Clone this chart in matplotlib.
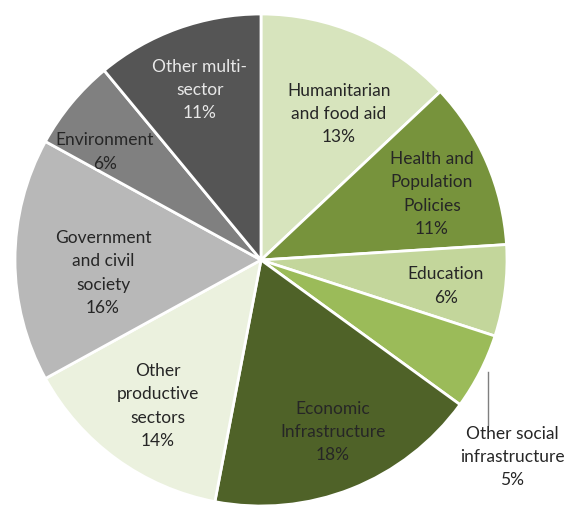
import matplotlib
matplotlib.use("Agg")
import matplotlib.pyplot as plt

# sector shares, clockwise from 12 o'clock
sectors = ["Humanitarian\nand food aid", "Health and\nPopulation\nPolicies", "Education",
           "Other social\ninfrastructure", "Economic\nInfrastructure", "Other\nproductive\nsectors",
           "Government\nand civil\nsociety", "Environment", "Other multi-\nsector"]
shares = [13, 11, 6, 5, 18, 14, 16, 6, 11]
colors = ["#d7e4bd", "#77933c", "#c3d69b", "#9bbb59", "#4f6228", "#ebf1de",
          "#b8b8b8", "#808080", "#555555"]

# label centres in pixel coords (x right, y down)
label_pos = [(339, 114), (432, 194), (446, 286), (512, 457), (333, 432),
             (158, 406), (103, 273), (105, 152), (200, 90)]
label_col = ["#262626"] * 8 + ["#e8e8e8"]

W, H = 569, 511
fig = plt.figure(figsize=(W / 100, H / 100), dpi=100)
ax = fig.add_axes([0, 0, 1, 1])

cx, cy, r = 261, 260, 246
ax.pie(shares, colors=colors, startangle=90, counterclock=False,
       center=(cx, H - cy), radius=r, frame=True,
       wedgeprops=dict(edgecolor="white", linewidth=2))
ax.set_xlim(0, W)
ax.set_ylim(0, H)
ax.set_aspect("equal")
ax.axis("off")

for name, val, (x, y), c in zip(sectors, shares, label_pos, label_col):
    ax.text(x, H - y, f"{name}\n{val}%", ha="center", va="center",
            fontsize=12.5, family="Lato", color=c, linespacing=1.55)

# leader line for the small slice
ax.plot([488, 488], [H - 372, H - 425], color="#7f7f7f", lw=1)

fig.savefig("out.png", dpi=100)
